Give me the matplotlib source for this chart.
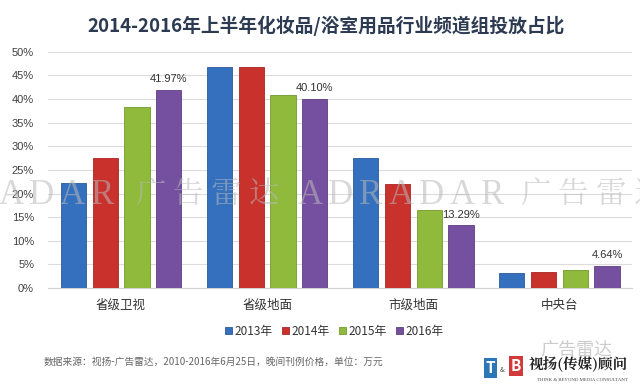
import numpy as np
import matplotlib
matplotlib.use("Agg")
import matplotlib.pyplot as plt

plt.rcParams['font.family'] = ['Noto Sans CJK SC', 'DejaVu Sans']

# data
categories = ['省级卫视', '省级地面', '市级地面', '中央台']
years = ['2013年', '2014年', '2015年', '2016年']
v2013 = [22.2, 46.7, 27.6, 3.2]
v2014 = [27.5, 46.8, 22.1, 3.4]
v2015 = [38.4, 40.9, 16.5, 3.8]
v2016 = [41.97, 40.10, 13.29, 4.64]
labels_2016 = ['41.97%', '40.10%', '13.29%', '4.64%']
yticks = [0, 5, 10, 15, 20, 25, 30, 35, 40, 45, 50]

colors = ['#3570be', '#c9312d', '#8fba3c', '#7650a0']
edges = ['#2a5a9a', '#a82622', '#739a2c', '#5e3d82']

W, H = 640, 387
fig = plt.figure(figsize=(6.4, 3.87), dpi=100)
ax = fig.add_axes([0.075, 0.256, 0.913, 0.61])

x = np.arange(len(categories))
step = 0.218
width = 0.172
series = [v2013, v2014, v2015, v2016]
for i, vals in enumerate(series):
    ax.bar(x + (i - 1.5) * step, vals, width, color=colors[i],
           edgecolor=edges[i], linewidth=0.6, label=years[i], zorder=3)

# data labels on the 2016 bars
for xi, v, t in zip(x, v2016, labels_2016):
    ax.text(xi + 1.5 * step, v + 1.2, t, ha='center', va='bottom',
            fontsize=8, color='#333333', zorder=4, family='Liberation Sans')

ax.set_ylim(0, 50)
ax.set_xlim(-0.5, 3.5)
ax.set_yticks(yticks)
ax.set_yticklabels([f'{t}%' for t in yticks], fontsize=8, color='#404040',
                   family='Liberation Sans')
ax.set_xticks(x)
ax.set_xticklabels(categories, fontsize=9, color='#333333')
ax.tick_params(axis='y', length=0, pad=10)
ax.tick_params(axis='x', length=0, pad=8)
ax.yaxis.grid(True, color='#dcdcdc', linewidth=0.8, zorder=0)
for s in ['top', 'right', 'left']:
    ax.spines[s].set_visible(False)
ax.spines['bottom'].set_color('#d0d0d0')

# watermark, semi transparent on top of everything (pixel positions from the reference)
wm_color = '#b8b8b8'
wm_alpha = 0.55
wm_y = 1 - 195 / H
def wm_latin(word, x_last):
    # letters ~30.5px apart, last letter centred at x_last
    for k, ch in enumerate(reversed(word)):
        xc = x_last - k * 30.5
        fig.text(xc / W, wm_y, ch, fontsize=25, color=wm_color, alpha=wm_alpha,
                 ha='center', va='center', family='Liberation Serif', zorder=10)
def wm_cjk(word, x_first):
    for k, ch in enumerate(word):
        xc = x_first + k * 38
        fig.text(xc / W, wm_y, ch, fontsize=22, color=wm_color, alpha=wm_alpha,
                 ha='center', va='center', fontweight='light',
                 family=['Noto Serif CJK SC', 'Noto Sans CJK SC'], zorder=10)
wm_latin('ADRADAR', 103)
wm_cjk('广告雷达', 150)
wm_latin('ADRADAR', 493)
wm_cjk('广告雷达', 535)

fig.text(0.51, 0.933, '2014-2016年上半年化妆品/浴室用品行业频道组投放占比',
         ha='center', va='center', fontsize=13.5, fontweight='bold', color='#2d3b52')

leg = ax.legend(loc='upper center', bbox_to_anchor=(0.49, -0.11), ncol=4,
                frameon=False, fontsize=8.5, handlelength=0.6, handleheight=0.6,
                handletextpad=0.2, columnspacing=0.8)
for t in leg.get_texts():
    t.set_color('#333333')

fig.text(0.068, 0.065, '数据来源：视扬-广告雷达，2010-2016年6月25日，晚间刊例价格，单位：万元',
         fontsize=7, color='#666666', va='center')

# logo at bottom right
fig.text(540 / W, 1 - 350 / H, '广告雷达', fontsize=13, color='#cccccc', va='center')
fig.text(486 / W, 1 - 368 / H, 'T', fontsize=11, fontweight='bold', color='white', va='center',
         bbox=dict(boxstyle='square,pad=0.12', fc='#2b78b8', ec='none'))
fig.text(500 / W, 1 - 370 / H, '&', fontsize=5, color='#444444', va='center')
fig.text(511 / W, 1 - 366 / H, 'B', fontsize=11, fontweight='bold', color='white', va='center',
         bbox=dict(boxstyle='square,pad=0.12', fc='#d03a3a', ec='none'))
fig.text(529 / W, 1 - 365 / H, '视扬(传媒)顾问', fontsize=10.5, fontweight='bold',
         color='#222222', va='center', family=['Noto Serif CJK SC', 'Noto Sans CJK SC'])
fig.text(537 / W, 1 - 380 / H, 'THINK & BEYOND MEDIA CONSULTANT', fontsize=3.5,
         color='#444444', va='center', family='Liberation Serif')

fig.savefig('out.png', dpi=100, facecolor='white')
